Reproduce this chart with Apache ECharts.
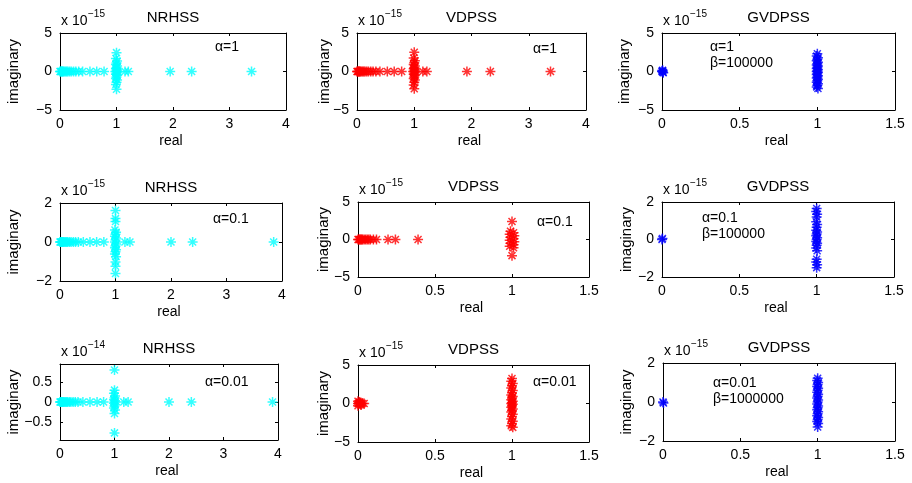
<!DOCTYPE html>
<html><head><meta charset="utf-8">
<script src="https://cdn.jsdelivr.net/npm/echarts@6/dist/echarts.min.js"></script>
<style>html,body{margin:0;padding:0;background:#fff}#c{width:912px;height:483px}</style>
</head><body><div id="c"></div>
<script>
// ---------- DATA (imaginary parts in units of the panel's multiplier) ----------
// Row 1 : alpha = 1
const nrhss1Re = [0,0.01,0.02,0.03,0.04,0.05,0.06,0.08,0.10,0.12,0.14,0.17,0.20,0.24,0.28,0.33,0.40,0.53,0.65,0.78,1.15,1.21,1.95,2.33,3.39,
  1.00,0.99,1.01,1.00,0.99,1.01,1.00,0.99,1.01,1.00,0.98,1.02,1.00,0.99,1.01,1.00,0.99,1.01,1.00,0.99,1.00];
const nrhss1Im = [0,0,0,0,0,0,0,0,0,0,0,0,0,0,0,0,0,0,0,0,0,0,0,0,0,
  2.45,1.70,1.35,1.10,0.90,0.70,0.50,0.35,0.20,0.08,0,-0.08,-0.20,-0.35,-0.50,-0.70,-0.90,-1.10,-1.40,-1.70,-2.30];
const vdpss1Re = [0,0.01,0.02,0.03,0.04,0.05,0.06,0.08,0.10,0.12,0.14,0.17,0.20,0.24,0.28,0.33,0.40,0.53,0.65,0.78,1.15,1.22,1.92,2.33,3.38,
  1.00,0.99,1.01,1.00,0.99,1.01,1.00,0.99,1.01,1.00,0.98,1.02,1.00,0.99,1.01,1.00,0.99,1.01,1.00,0.99,1.00];
const vdpss1Im = [0,0,0,0,0,0,0,0,0,0,0,0,0,0,0,0,0,0,0,0,0,0,0,0,0,
  2.50,1.75,1.40,1.15,0.90,0.70,0.50,0.35,0.20,0.08,0,-0.08,-0.20,-0.35,-0.50,-0.70,-0.90,-1.10,-1.40,-1.75,-2.25];
const gvdpss1Re = [0,0.004,0.008,0.002,0.006,
  1.000,0.996,1.004,1.000,0.996,1.004,1.000,0.996,1.004,1.000,0.996,1.004,1.000,0.996,1.004,1.000,0.996,1.004,1.000,0.996,1.004,1.000,0.996,1.004,1.000,0.996,1.004];
const gvdpss1Im = [0,0.15,-0.15,0.08,-0.08,
  2.30,2.00,1.80,1.60,1.40,1.20,1.00,0.85,0.70,0.55,0.40,0.25,0.10,0,-0.10,-0.25,-0.40,-0.55,-0.70,-0.85,-1.00,-1.20,-1.40,-1.60,-1.80,-2.00,-2.20];
// Row 2 : alpha = 0.1
const nrhss2Re = [0,0.01,0.02,0.03,0.04,0.05,0.06,0.08,0.10,0.12,0.14,0.17,0.20,0.24,0.28,0.33,0.42,0.54,0.66,0.79,1.17,1.26,2.00,2.39,3.85,
  1.00,1.00,1.00,0.99,1.01,1.00,0.99,1.01,1.00,0.99,1.01,1.00,0.99,1.01,1.00,0.99,1.01,1.00,1.00,1.00];
const nrhss2Im = [0,0,0,0,0,0,0,0,0,0,0,0,0,0,0,0,0,0,0,0,0,0,0,0,0,
  1.62,1.20,1.05,0.62,0.50,0.40,0.30,0.20,0.10,0,-0.10,-0.20,-0.30,-0.40,-0.50,-0.62,-0.75,-1.02,-1.24,-1.62];
const vdpss2Re = [0,0.005,0.01,0.015,0.02,0.025,0.03,0.04,0.05,0.06,0.07,0.08,0.10,0.12,0.195,0.243,0.39,
  1.00,0.99,1.01,0.985,1.015,0.99,1.01,0.985,1.015,0.99,1.01,0.985,1.01,1.00];
const vdpss2Im = [0,0,0,0,0,0,0,0,0,0,0,0,0,0,0,0,0,
  2.40,1.10,0.90,0.70,0.50,0.30,0.10,-0.10,-0.30,-0.50,-0.70,-0.90,-1.10,-2.15];
const gvdpss2Re = [0,0.003,
  1.000,0.997,1.003,1.000,0.997,1.003,1.000,0.997,1.003,1.000,0.997,1.003,1.000,0.997,1.003,1.000,0.997,1.003,1.000,0.997,1.003,1.000];
const gvdpss2Im = [0,0.05,
  1.65,1.50,1.35,1.20,0.95,0.80,0.65,0.50,0.40,0.30,0.20,0.10,0,-0.10,-0.20,-0.30,-0.45,-0.60,-1.05,-1.20,-1.35,-1.50];
// Row 3 : alpha = 0.01
const nrhss3Re = [0,0.01,0.02,0.03,0.04,0.05,0.06,0.08,0.10,0.12,0.14,0.17,0.20,0.24,0.28,0.33,0.42,0.55,0.68,0.80,1.17,1.25,2.00,2.41,3.90,
  1.00,1.00,0.99,1.01,1.00,0.99,1.01,1.00,0.99,1.01,1.00,0.99,1.01,1.00,1.00];
const nrhss3Im = [0,0,0,0,0,0,0,0,0,0,0,0,0,0,0,0,0,0,0,0,0,0,0,0,0,
  0.81,0.30,0.22,0.15,0.10,0.06,0.03,0,-0.03,-0.06,-0.10,-0.15,-0.20,-0.29,-0.78];
const vdpss3Re = [0,0.005,0.01,0.015,0.02,0.03,0.04,0,0.01,0.02,0,0.01,
  1.000,0.995,1.005,1.000,0.995,1.005,1.000,0.995,1.005,1.000,0.995,1.005,1.000,0.995,1.005,1.000,0.995,1.005,1.000,0.995,1.005,1.000,0.995,1.005,1.000,0.995,1.005];
const vdpss3Im = [0,0,0,0,0,0,0,0.3,0.2,-0.2,-0.3,0.1,
  3.25,2.90,2.60,2.30,2.00,1.70,1.40,1.10,0.90,0.70,0.50,0.30,0.10,0,-0.10,-0.30,-0.50,-0.70,-0.90,-1.10,-1.40,-1.70,-2.00,-2.30,-2.60,-2.90,-3.10];
const gvdpss3Re = [0,0.003,
  1.000,0.997,1.003,1.000,0.997,1.003,1.000,0.997,1.003,1.000,0.997,1.003,1.000,0.997,1.003,1.000,0.997,1.003,1.000,0.997,1.003,1.000,0.997,1.003,1.000];
const gvdpss3Im = [0,-0.05,
  1.22,1.10,1.00,0.90,0.80,0.70,0.60,0.50,0.40,0.30,0.20,0.10,0,-0.10,-0.20,-0.30,-0.40,-0.50,-0.60,-0.70,-0.80,-0.90,-1.00,-1.10,-1.28];

// tick labels
const xTicks4 = [0,1,2,3,4];
const xTicks15 = [0,0.5,1,1.5];
const yTicks5 = [-5,0,5];
const yTicks2 = [-2,0,2];
const yTicksHalf = [-0.5,0,0.5];

// titles / annotations
const titles = ['NRHSS','VDPSS','GVDPSS','NRHSS','VDPSS','GVDPSS','NRHSS','VDPSS','GVDPSS'];
const exps = ['−15','−15','−15','−15','−15','−15','−14','−15','−15'];
const notes = [['α=1'],['α=1'],['α=1','β=100000'],['α=0.1'],['α=0.1'],['α=0.1','β=100000'],['α=0.01'],['α=0.01'],['α=0.01','β=1000000']];

// ---------- LAYOUT ----------
const CY = '#00FFFF', RD = '#FF0000', BL = '#0000FF';
const panels = [
  {l:60, t:33, r:286, b:110, re:nrhss1Re, im:nrhss1Im, c:CY, xmax:4, xt:xTicks4, ymin:-5, ymax:5, yt:yTicks5, yl:14, note:[215,47]},
  {l:357,t:33, r:586, b:110, re:vdpss1Re, im:vdpss1Im, c:RD, xmax:4, xt:xTicks4, ymin:-5, ymax:5, yt:yTicks5, yl:325, note:[533,49]},
  {l:662,t:33, r:895, b:110, re:gvdpss1Re, im:gvdpss1Im, c:BL, xmax:1.5, xt:xTicks15, ymin:-5, ymax:5, yt:yTicks5, yl:625, note:[710,47]},
  {l:60, t:203,r:282, b:281, re:nrhss2Re, im:nrhss2Im, c:CY, xmax:4, xt:xTicks4, ymin:-2, ymax:2, yt:yTicks2, yl:14, note:[213,219]},
  {l:358,t:202,r:589, b:277, re:vdpss2Re, im:vdpss2Im, c:RD, xmax:1.5, xt:xTicks15, ymin:-5, ymax:5, yt:yTicks5, yl:324, note:[537,222]},
  {l:662,t:202,r:894, b:277, re:gvdpss2Re, im:gvdpss2Im, c:BL, xmax:1.5, xt:xTicks15, ymin:-2, ymax:2, yt:yTicks2, yl:627, note:[702,218]},
  {l:60, t:364,r:278, b:440, re:nrhss3Re, im:nrhss3Im, c:CY, xmax:4, xt:xTicks4, ymin:-0.96, ymax:0.96, yt:yTicksHalf, yl:14, note:[205,382]},
  {l:358,t:365,r:589, b:442, re:vdpss3Re, im:vdpss3Im, c:RD, xmax:1.5, xt:xTicks15, ymin:-5, ymax:5, yt:yTicks5, yl:324, note:[533,382]},
  {l:663,t:363,r:895, b:441, re:gvdpss3Re, im:gvdpss3Im, c:BL, xmax:1.5, xt:xTicks15, ymin:-2, ymax:2, yt:yTicks2, yl:627, note:[713,383]}
];

const FONT = '"Liberation Sans", Arial, Helvetica, sans-serif';
const STAR = 'path://M0,5L10,5M5,0L5,10M1.5,1.5L8.5,8.5M8.5,1.5L1.5,8.5';
const fmt = v => String(v).replace('-', '−');

const grid = [], xAxis = [], yAxis = [], series = [], graphic = [];
const lineStyle = {color:'#000', width:1};
panels.forEach((p, i) => {
  grid.push({left:p.l, top:p.t, width:p.r-p.l, height:p.b-p.t, containLabel:false});
  const xBase = {type:'value', gridIndex:i, min:0, max:p.xmax, splitLine:{show:false},
    axisLine:{show:true, onZero:false, lineStyle}, axisTick:{show:true, inside:true, length:3, lineStyle, customValues:p.xt}};
  const yBase = {type:'value', gridIndex:i, min:p.ymin, max:p.ymax, splitLine:{show:false},
    axisLine:{show:true, onZero:false, lineStyle}, axisTick:{show:true, inside:true, length:3, lineStyle, customValues:p.yt}};
  xAxis.push(Object.assign({}, xBase, {position:'bottom',
    axisLabel:{show:true, customValues:p.xt, formatter:fmt, color:'#000', fontSize:14, fontFamily:FONT, margin:7, showMaxLabel:true, showMinLabel:true}}));
  yAxis.push(Object.assign({}, yBase, {position:'left',
    axisLabel:{show:true, customValues:p.yt, formatter:fmt, color:'#000', fontSize:14, fontFamily:FONT, margin:8, showMaxLabel:true, showMinLabel:true}}));
  const data = p.re.map((r, k) => [r, p.im[k]]);
  series.push({type:'scatter', xAxisIndex:i, yAxisIndex:i, data, symbol:STAR, symbolSize:10,
    itemStyle:{color:'rgba(0,0,0,0)', borderColor:p.c, borderWidth:1.5}, silent:true, animation:false});
  const cx = (p.l + p.r) / 2;
  graphic.push({type:'text', x:cx, y:p.t-15.5, style:{text:titles[i], font:'15px '+FONT, fill:'#000', align:'center', verticalAlign:'middle'}});
  graphic.push({type:'text', x:p.l+1, y:p.t-12, style:{text:'x 10', font:'14px '+FONT, fill:'#000', align:'left', verticalAlign:'middle'}});
  graphic.push({type:'text', x:p.l+28, y:p.t-19, style:{text:exps[i], font:'10px '+FONT, fill:'#000', align:'left', verticalAlign:'middle'}});
  graphic.push({type:'text', x:p.yl, y:(p.t+p.b)/2, rotation:Math.PI/2, style:{text:'imaginary', font:'15px '+FONT, fill:'#000', align:'center', verticalAlign:'middle'}});
  graphic.push({type:'text', x:cx-2, y:p.b+31, style:{text:'real', font:'14px '+FONT, fill:'#000', align:'center', verticalAlign:'middle'}});
  notes[i].forEach((s, k) => {
    graphic.push({type:'text', x:p.note[0], y:p.note[1]+k*16, style:{text:s, font:'14px '+FONT, fill:'#000', align:'left', verticalAlign:'middle'}});
  });
});
// mirrored top / right axes (box with inside ticks)
panels.forEach((p, i) => {
  xAxis.push({type:'value', gridIndex:i, position:'top', min:0, max:p.xmax, splitLine:{show:false},
    axisLine:{show:true, onZero:false, lineStyle}, axisTick:{show:true, inside:true, length:3, lineStyle, customValues:p.xt}, axisLabel:{show:false}});
  yAxis.push({type:'value', gridIndex:i, position:'right', min:p.ymin, max:p.ymax, splitLine:{show:false},
    axisLine:{show:true, onZero:false, lineStyle}, axisTick:{show:true, inside:true, length:3, lineStyle, customValues:p.yt}, axisLabel:{show:false}});
});

const chart = echarts.init(document.getElementById('c'), null, {renderer:'canvas'});
chart.setOption({animation:false, backgroundColor:'#fff', grid, xAxis, yAxis, series, graphic});
</script></body></html>
